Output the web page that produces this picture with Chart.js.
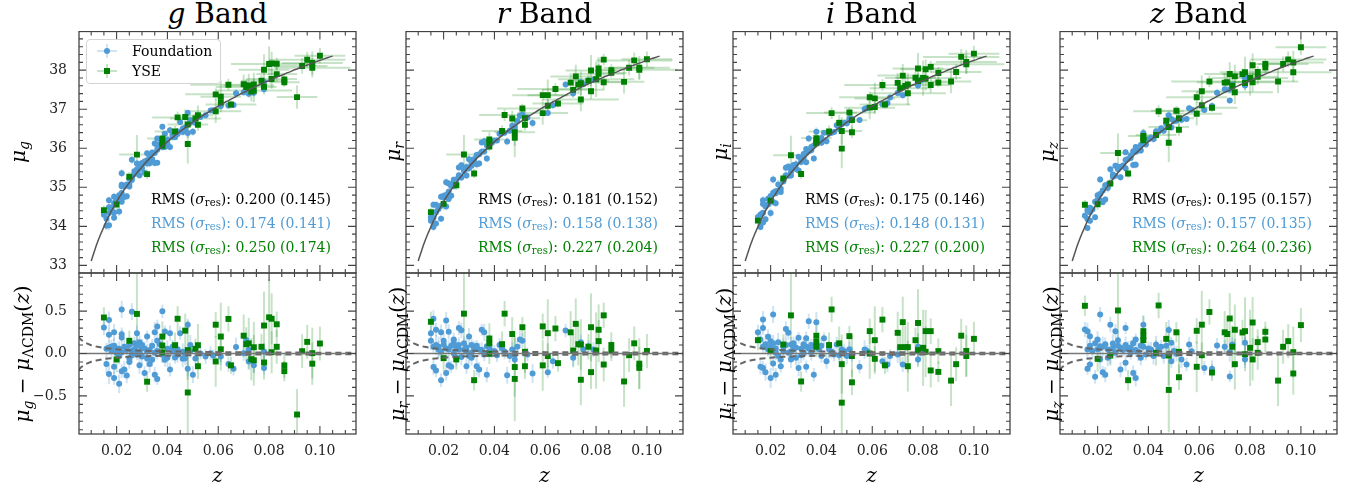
<!DOCTYPE html>
<html>
<head>
<meta charset="utf-8">
<script src="https://cdn.jsdelivr.net/npm/chart.js@4/dist/chart.umd.min.js"></script>
<style>
  body { margin: 0; width: 1358px; height: 493px; background: #fff; position: relative; overflow: hidden;
         font-family: 'DejaVu Serif', serif; }
  canvas { position: absolute; }
  .t { position: absolute; white-space: nowrap; color: #000; line-height: 1; }
  .t i { font-style: italic; }
  .sb { font-size: 0.7em; position: relative; top: 0.28em; }
  .rms { position: absolute; white-space: nowrap; text-align: right; font-size: 14px; line-height: 23px; }
  .lg { position: absolute; border: 1px solid #d4d4d4; border-radius: 4px; background: rgba(255,255,255,0.85); }
  .lg div { position: absolute; }
</style>
</head>
<body>
<script>
// ---- data ----
// mu_LCDM(z) curve, tabulated every 0.001 in z
const zGrid = [0.010,0.011,0.012,0.013,0.014,0.015,0.016,0.017,0.018,0.019,
  0.020,0.021,0.022,0.023,0.024,0.025,0.026,0.027,0.028,0.029,
  0.030,0.031,0.032,0.033,0.034,0.035,0.036,0.037,0.038,0.039,
  0.040,0.041,0.042,0.043,0.044,0.045,0.046,0.047,0.048,0.049,
  0.050,0.051,0.052,0.053,0.054,0.055,0.056,0.057,0.058,0.059,
  0.060,0.061,0.062,0.063,0.064,0.065,0.066,0.067,0.068,0.069,
  0.070,0.071,0.072,0.073,0.074,0.075,0.076,0.077,0.078,0.079,
  0.080,0.081,0.082,0.083,0.084,0.085,0.086,0.087,0.088,0.089,
  0.090,0.091,0.092,0.093,0.094,0.095,0.096,0.097,0.098,0.099,
  0.100,0.101,0.102,0.103,0.104,0.105];
const muLcdm = [33.11,33.31,33.51,33.68,33.84,33.99,34.14,34.27,34.40,34.51,
  34.63,34.74,34.84,34.94,35.03,35.12,35.21,35.29,35.37,35.45,
  35.52,35.60,35.67,35.74,35.80,35.87,35.93,35.99,36.05,36.11,
  36.17,36.22,36.27,36.33,36.38,36.43,36.48,36.53,36.57,36.62,
  36.67,36.71,36.75,36.80,36.84,36.88,36.92,36.96,37.00,37.04,
  37.08,37.12,37.15,37.19,37.22,37.26,37.29,37.33,37.36,37.40,
  37.43,37.46,37.49,37.52,37.56,37.59,37.62,37.65,37.68,37.71,
  37.73,37.76,37.79,37.82,37.85,37.87,37.90,37.93,37.95,37.98,
  38.01,38.03,38.06,38.08,38.11,38.13,38.16,38.18,38.20,38.23,
  38.25,38.27,38.30,38.32,38.34,38.36];

// dashed peculiar-velocity envelope in the residual panels
const envZ  = [0.005,0.006,0.007,0.008,0.010,0.012,0.015,0.020,0.025,0.030,0.040,0.050,0.060,0.080,0.100,0.115];
const envHi = [0.196,0.163,0.140,0.123,0.098,0.082,0.065,0.049,0.039,0.033,0.025,0.020,0.016,0.012,0.010,0.009];
const envLo = [-0.196,-0.163,-0.140,-0.123,-0.098,-0.082,-0.065,-0.049,-0.039,-0.033,-0.025,-0.020,-0.016,-0.012,-0.010,-0.009];

// Foundation: redshift and Hubble residual per band
const fZ_g = [0.015,0.017,0.017,0.016,0.016,0.018,0.018,0.019,0.017,0.019,0.019,0.020,0.021,0.022,0.022,0.022,0.021,0.022,0.022,0.023,
  0.024,0.025,0.025,0.026,0.026,0.027,0.028,0.028,0.029,0.029,0.030,0.030,0.031,0.032,0.032,0.033,0.034,0.035,0.035,0.036,
  0.036,0.036,0.036,0.038,0.038,0.039,0.039,0.040,0.041,0.041,0.042,0.043,0.044,0.045,0.046,0.047,0.047,0.048,0.048,0.049,
  0.049,0.050,0.055,0.057,0.058,0.061,0.064,0.066,0.067,0.070,0.071,0.072,0.072,0.074,0.078,0.078,
  0.017,0.019,0.020,0.021,0.023,0.024,0.025,0.026,0.027,0.028,0.029,0.030,0.031,0.032,0.033,0.034,0.035,0.037,0.040,0.042,
  0.044,0.046,0.051,0.053];
const fRes_g = [0.306,0.396,0.22,-0.125,0.055,0.03,0.082,0.25,-0.243,-0.157,-0.29,0.004,0.055,0.52,0.227,0.188,-0.357,0.016,-0.21,-0.19,
  -0.26,-0.1,-0.055,0.494,0.03,0.12,0.24,-0.008,-0.14,0.133,0.063,-0.035,-0.23,0.2,0.024,-0.125,-0.075,-0.25,0.25,0.32,
  -0.3,0.15,0.03,0.498,-0.016,0.26,-0.075,0.055,0.24,-0.19,0.024,-0.047,-0.016,0.24,-0.063,-0.008,-0.055,0.34,-0.18,0.1,
  0.03,-0.25,-0.035,0.004,-0.024,-0.035,-0.125,-0.18,0.078,0.004,0.16,-0.094,0.043,-0.14,0.024,-0.17,
  0.07,0.09,0.06,-0.03,0.08,0.04,0.10,-0.02,0.05,0.09,0.02,0.10,0.06,-0.06,0.04,0.09,0.01,0.11,-0.05,0.08,
  0.05,0.02,-0.06,0.0];

const fZ_r = [0.015,0.016,0.017,0.015,0.016,0.016,0.017,0.018,0.018,0.019,0.019,0.020,0.021,0.021,0.022,0.022,0.022,0.023,0.024,0.024,
  0.025,0.026,0.026,0.027,0.027,0.028,0.029,0.029,0.030,0.031,0.031,0.033,0.034,0.035,0.034,0.036,0.036,0.037,0.037,0.039,
  0.040,0.043,0.045,0.046,0.047,0.048,0.048,0.050,0.051,0.053,0.055,0.061,0.063,0.068,0.071,0.074,0.075,0.077,0.079,
  0.017,0.019,0.020,0.021,0.023,0.024,0.025,0.026,0.028,0.029,0.030,0.031,0.032,0.033,0.035,0.038,0.041,0.042,0.044,0.049];
const fRes_r = [0.24,0.41,0.28,0.15,0.08,-0.16,-0.2,0.047,0.08,0.25,-0.315,0.106,-0.23,0.39,-0.14,0.256,0.047,-0.157,0.165,0.0,
  0.08,0.3,0.047,-0.04,0.275,0.047,-0.15,0.028,0.2,0.008,-0.05,-0.15,0.047,0.28,-0.19,0.25,-0.012,-0.25,0.087,0.028,
  0.028,0.059,-0.256,-0.03,0.047,-0.012,-0.07,0.165,0.15,-0.012,-0.236,-0.22,-0.09,0.27,-0.05,0.134,0.047,0.087,0.047,
  0.10,0.02,0.15,0.06,0.09,0.12,-0.05,0.10,0.12,0.07,-0.03,0.10,0.05,0.09,0.04,0.06,-0.02,0.10,0.02,0.08];

const fZ_i = [0.015,0.017,0.017,0.016,0.017,0.016,0.017,0.018,0.020,0.019,0.020,0.020,0.021,0.021,0.022,0.022,0.023,0.024,0.024,0.025,
  0.026,0.027,0.027,0.028,0.028,0.029,0.030,0.031,0.031,0.032,0.033,0.034,0.034,0.034,0.035,0.036,0.037,0.037,0.038,0.040,
  0.041,0.042,0.043,0.045,0.046,0.048,0.049,0.050,0.052,0.055,0.057,0.064,0.066,0.067,0.070,0.072,0.078,0.078,0.079,
  0.018,0.019,0.021,0.022,0.023,0.025,0.026,0.028,0.029,0.030,0.032,0.033,0.035,0.036,0.039,0.040,0.044,0.047,0.051,0.058];
const fRes_i = [0.25,0.40,0.30,0.165,0.08,-0.157,-0.17,-0.22,-0.29,0.197,0.146,0.08,-0.118,0.46,-0.25,0.008,0.134,-0.15,-0.07,0.08,
  0.29,0.244,0.008,-0.07,0.106,0.047,-0.05,0.185,-0.17,0.055,0.008,0.08,0.18,-0.157,0.38,0.016,-0.25,0.08,0.37,-0.03,
  0.18,-0.09,0.047,-0.012,0.106,0.047,0.028,-0.03,-0.004,-0.157,0.047,-0.09,-0.13,-0.03,-0.012,-0.13,0.08,-0.07,0.016,
  0.11,0.05,0.12,0.06,-0.03,0.03,0.10,0.02,0.12,0.07,-0.02,0.11,0.06,0.10,0.05,0.09,0.02,-0.02,0.05,0.03];

const fZ_z = [0.015,0.016,0.017,0.016,0.016,0.017,0.019,0.020,0.021,0.021,0.021,0.022,0.023,0.024,0.024,0.025,0.026,0.027,0.027,0.028,
  0.029,0.029,0.031,0.031,0.032,0.033,0.034,0.035,0.035,0.035,0.037,0.038,0.038,0.039,0.041,0.043,0.045,0.046,0.048,0.049,
  0.049,0.051,0.053,0.055,0.056,0.057,0.062,0.065,0.067,0.070,0.072,0.072,0.073,0.078,0.078,
  0.017,0.018,0.019,0.020,0.022,0.023,0.025,0.026,0.028,0.030,0.031,0.033,0.034,0.036,0.037,0.040,0.042,0.044,0.047,0.050];
const fRes_z = [0.283,0.264,0.205,0.047,-0.18,-0.13,-0.275,0.165,-0.07,0.46,0.087,-0.22,-0.25,-0.05,0.047,0.34,0.118,0.008,0.264,0.157,
  -0.19,0.067,0.3,-0.11,0.055,0.008,-0.23,0.165,-0.29,0.04,-0.05,0.34,0.08,-0.012,0.047,0.106,0.08,-0.03,0.276,-0.09,
  0.126,-0.004,-0.07,-0.13,0.106,0.028,-0.17,-0.18,0.094,0.08,0.016,-0.27,0.106,0.126,-0.07,
  0.09,0.03,0.12,0.05,0.08,0.11,-0.02,0.06,0.09,0.04,0.10,0.07,0.12,0.02,0.09,0.06,-0.03,0.05,0.09,0.03];

const fErr = [0.09,0.10,0.08,0.11,0.07,0.09,0.08,0.10,0.12,0.09, 0.08,0.07,0.09,0.10,0.08,0.09,0.11,0.07,0.08,0.10,
  0.09,0.08,0.07,0.10,0.09,0.08,0.09,0.07,0.10,0.08, 0.09,0.11,0.08,0.07,0.09,0.10,0.08,0.09,0.12,0.08,
  0.07,0.09,0.10,0.08,0.09,0.07,0.08,0.10,0.09,0.08, 0.11,0.07,0.09,0.08,0.10,0.09,0.08,0.07,0.09,0.12,
  0.08,0.10,0.09,0.08,0.07,0.10,0.09,0.08,0.11,0.09, 0.08,0.10,0.07,0.09,0.10,0.08,0.08,0.09,0.07,0.10,
  0.09,0.08,0.07,0.09,0.10,0.08,0.09,0.07,0.08,0.10, 0.09,0.08,0.07,0.09,0.11,0.08,0.09,0.10,0.08,0.07];

// YSE: redshift, redshift error, distance error, residual per band
const yZ = [0.015,0.020,0.025,0.028,0.032,0.038,0.038,0.038,0.043,0.044,0.047,0.048,0.048,0.051,0.052,0.052,0.059,0.059,0.061,0.061,
  0.064,0.065,0.070,0.071,0.072,0.073,0.074,0.074,0.077,0.078,0.078,0.080,0.081,0.081,0.083,0.083,0.086,0.086,0.091,0.093,
  0.095,0.097,0.097,0.100];
const yZErr = [0,0,0,0.007,0,0.006,0,0,0.008,0.010,0,0.008,0,0.010,0,0.006,0.012,0.010,0.008,0,
  0.015,0.010,0,0.012,0.010,0,0.015,0,0.008,0.010,0,0.015,0.010,0,0.008,0,0.006,0,0.008,0.010,
  0.015,0.012,0.015,0.010];
const yErr = [0.12,0.15,0.12,0.50,0.12,0.18,0.10,0.12,0.15,0.15,0.20,0.35,0.50,0.12,0.15,0.25,0.15,0.30,0.40,0.15,
  0.15,0.10,0.25,0.20,0.30,0.25,0.30,0.30,0.15,0.40,0.20,0.45,0.25,0.30,0.20,0.15,0.12,0.15,0.30,0.20,
  0.20,0.30,0.25,0.20];
const yRes_g = [0.425,-0.07,0.15,0.467,-0.333,0.20,0.094,0.012,0.098,0.41,0.27,0.04,-0.46,0.055,-0.15,0.098,0.34,-0.094,0.20,0.05,
  0.408,-0.14,0.21,0.11,0.12,-0.067,-0.08,0.074,0.079,0.33,-0.106,0.427,0.015,0.41,0.079,0.345,-0.208,-0.14,-0.72,0.027,
  0.137,0.004,-0.12,0.118];
const yRes_r = [0.374,-0.055,-0.07,0.47,-0.315,0.177,0.12,-0.004,0.11,0.47,0.23,-0.16,-0.30,0.31,-0.15,0.02,0.32,-0.14,0.24,-0.03,
  0.295,-0.114,0.25,0.035,0.35,0.11,-0.31,0.106,0.08,0.31,-0.22,0.035,0.146,0.28,-0.13,0.45,0.03,0.10,-0.33,-0.02,
  0.12,-0.12,-0.17,0.03];
const yRes_i = [0.157,0.028,0.106,0.45,-0.33,0.21,0.14,0.08,0.10,0.52,0.12,-0.126,-0.58,0.205,-0.34,-0.03,0.264,0.0,0.157,-0.063,
  0.40,-0.14,0.244,0.075,0.37,0.075,-0.15,0.075,0.157,0.36,0.04,0.067,0.264,0.02,-0.2,0.264,-0.217,0.028,-0.32,-0.126,
  0.21,0.03,-0.03,0.173];
const yRes_z = [0.563,-0.063,-0.024,0.508,-0.315,0.264,0.205,0.157,0.008,0.567,0.173,-0.024,-0.43,0.25,-0.28,0.02,0.268,-0.157,0.34,-0.02,
  0.49,-0.224,0.25,0.23,0.413,0.079,-0.126,0.28,0.248,0.264,-0.008,0.067,-0.07,0.366,0.008,0.134,0.256,0.165,-0.32,0.079,
  0.146,0.016,-0.236,0.335];

const rms_g = ['0.200 (0.145)', '0.174 (0.141)', '0.250 (0.174)'];
const rms_r = ['0.181 (0.152)', '0.158 (0.138)', '0.227 (0.204)'];
const rms_i = ['0.175 (0.146)', '0.148 (0.131)', '0.227 (0.200)'];
const rms_z = ['0.195 (0.157)', '0.157 (0.135)', '0.264 (0.236)'];

// ---- styling ----
const X_MIN = 0.0052, X_MAX = 0.1142;
const BLUE = '#4f9bd5', BLUE_ERR = 'rgba(79,155,213,0.28)';
const GREEN = '#008000', GREEN_ERR = 'rgba(0,128,0,0.22)';
const FONT = "'DejaVu Serif', serif";
const LEFTS = [79, 406, 733, 1060], PW = 277;
const TOP_Y = 31.5, MID_Y = 273, BOT_Y = 434;

const bands = [
  { name: 'g', fz: fZ_g, fr: fRes_g, yr: yRes_g, rms: rms_g },
  { name: 'r', fz: fZ_r, fr: fRes_r, yr: yRes_r, rms: rms_r },
  { name: 'i', fz: fZ_i, fr: fRes_i, yr: yRes_i, rms: rms_i },
  { name: 'z', fz: fZ_z, fr: fRes_z, yr: yRes_z, rms: rms_z }
];

function muAt(z) { return muLcdm[zGrid.indexOf(z)]; }

// inward ticks on all four sides plus the axes frame
const frameTicks = {
  id: 'frameTicks',
  afterDraw(chart, args, o) {
    const { ctx, chartArea: a, scales: { x, y } } = chart;
    ctx.save();
    ctx.strokeStyle = '#444';
    ctx.lineWidth = 1.1;
    ctx.beginPath();
    for (let k = Math.ceil(x.min / o.xMinor); k * o.xMinor <= x.max; k++) {
      const px = x.getPixelForValue(k * o.xMinor);
      const len = (k % o.xRatio === 0) ? 8 : 4;
      ctx.moveTo(px, a.bottom); ctx.lineTo(px, a.bottom - len);
      ctx.moveTo(px, a.top); ctx.lineTo(px, a.top + len);
    }
    for (let k = Math.ceil(y.min / o.yMinor - 1e-9); k * o.yMinor <= y.max + 1e-9; k++) {
      const py = y.getPixelForValue(k * o.yMinor);
      const len = (((k % o.yRatio) + o.yRatio) % o.yRatio === 0) ? 8 : 4;
      ctx.moveTo(a.left, py); ctx.lineTo(a.left + len, py);
      ctx.moveTo(a.right, py); ctx.lineTo(a.right - len, py);
    }
    ctx.stroke();
    ctx.lineWidth = 1.3;
    ctx.strokeRect(a.left, a.top, a.right - a.left, a.bottom - a.top);
    ctx.restore();
  }
};

// error bars from dataset.errX / dataset.errY
const errorBars = {
  id: 'errorBars',
  beforeDatasetsDraw(chart) {
    const { ctx, chartArea: a, scales: { x, y } } = chart;
    ctx.save();
    ctx.beginPath();
    ctx.rect(a.left, a.top, a.right - a.left, a.bottom - a.top);
    ctx.clip();
    ctx.lineWidth = 2;
    chart.data.datasets.forEach(ds => {
      if (!ds.errY) return;
      ctx.strokeStyle = ds.errColor;
      ds.data.forEach((p, i) => {
        const px = x.getPixelForValue(p.x), py = y.getPixelForValue(p.y);
        const ey = ds.errY[i] || 0, ex = ds.errX ? ds.errX[i] : 0;
        if (ey) {
          ctx.beginPath();
          ctx.moveTo(px, y.getPixelForValue(p.y - ey));
          ctx.lineTo(px, y.getPixelForValue(p.y + ey));
          ctx.stroke();
        }
        if (ex) {
          ctx.beginPath();
          ctx.moveTo(x.getPixelForValue(p.x - ex), py);
          ctx.lineTo(x.getPixelForValue(p.x + ex), py);
          ctx.stroke();
        }
      });
    });
    ctx.restore();
  }
};

function panel(opts) {
  const c = document.createElement('canvas');
  c.width = opts.w; c.height = opts.h;
  c.style.left = opts.left + 'px'; c.style.top = opts.top + 'px';
  document.body.appendChild(c);
  return new Chart(c, {
    type: 'scatter',
    data: { datasets: opts.datasets },
    plugins: [errorBars, frameTicks],
    options: {
      responsive: false, animation: false, devicePixelRatio: 1,
      layout: { padding: opts.padding, autoPadding: false },
      plugins: {
        legend: { display: false }, tooltip: { enabled: false },
        frameTicks: { xMinor: 0.005, xRatio: 4, yMinor: opts.yMinor, yRatio: 5 }
      },
      scales: {
        x: {
          type: 'linear', min: X_MIN, max: X_MAX, display: opts.xLabels,
          grid: { display: false, drawTicks: false }, border: { display: false },
          ticks: { stepSize: 0.02, includeBounds: false, autoSkip: false, maxRotation: 0, padding: 9,
                   color: '#222', font: { family: FONT, size: 14 }, callback: v => v.toFixed(2) },
          afterFit: s => { s.height = opts.xLabels ? 40 : 0; s.paddingLeft = 0; s.paddingRight = 0; }
        },
        y: {
          type: 'linear', min: opts.yMin, max: opts.yMax, position: 'left',
          grid: { display: false, drawTicks: false }, border: { display: false },
          ticks: { display: opts.yLabels, stepSize: opts.yStep, includeBounds: false, autoSkip: false, padding: 12,
                   color: '#222', font: { family: FONT, size: 14 },
                   callback: v => v.toFixed(opts.yDec).replace('-', '\u2212') },
          afterFit: s => { s.width = 70; s.paddingTop = 0; s.paddingBottom = 0; }
        }
      }
    }
  });
}

function addText(html, css, cls) {
  const d = document.createElement('div');
  d.className = cls || 't';
  d.innerHTML = html;
  Object.assign(d.style, css);
  document.body.appendChild(d);
  return d;
}

bands.forEach((b, k) => {
  const L = LEFTS[k];
  const first = k === 0;

  // top: distance modulus
  panel({
    left: L - 70, top: 31, w: 70 + PW + 10, h: 252,
    padding: { left: 0, top: TOP_Y - 31, right: 10, bottom: 252 - (MID_Y - 31) },
    xLabels: false, yLabels: first, yMin: 32.805, yMax: 38.99, yStep: 1, yMinor: 0.2, yDec: 0,
    datasets: [
      { label: 'model', data: zGrid.map((z, i) => ({ x: z, y: muLcdm[i] })), showLine: true,
        borderColor: '#555', borderWidth: 1.5, pointRadius: 0, order: 0 },
      { label: 'YSE', data: yZ.map((z, i) => ({ x: z, y: muAt(z) + b.yr[i] })),
        errY: yErr, errX: yZErr, errColor: GREEN_ERR,
        pointStyle: 'rect', pointRadius: 4.2, backgroundColor: GREEN, borderWidth: 0, order: 1 },
      { label: 'Foundation', data: b.fz.map((z, i) => ({ x: z, y: muAt(z) + b.fr[i] })),
        errY: fErr, errColor: BLUE_ERR,
        pointStyle: 'circle', pointRadius: 3, backgroundColor: BLUE, borderWidth: 0, order: 2 }
    ]
  });

  // bottom: residuals
  panel({
    left: L - 70, top: MID_Y - 10, w: 70 + PW + 10, h: BOT_Y - MID_Y + 10 + 40,
    padding: { left: 0, top: 10, right: 10, bottom: 0 },
    xLabels: true, yLabels: first, yMin: -0.95, yMax: 0.95, yStep: 0.5, yMinor: 0.1, yDec: 1,
    datasets: [
      { label: 'zero', data: envZ.map(z => ({ x: z, y: 0 })), showLine: true,
        borderColor: '#777', borderWidth: 1.5, pointRadius: 0, order: 0 },
      { label: 'env+', data: envZ.map((z, i) => ({ x: z, y: envHi[i] })), showLine: true,
        borderColor: '#666', borderWidth: 2, borderDash: [6, 4], pointRadius: 0, order: 0 },
      { label: 'env-', data: envZ.map((z, i) => ({ x: z, y: envLo[i] })), showLine: true,
        borderColor: '#666', borderWidth: 2, borderDash: [6, 4], pointRadius: 0, order: 0 },
      { label: 'YSE', data: yZ.map((z, i) => ({ x: z, y: b.yr[i] })),
        errY: yErr, errColor: GREEN_ERR,
        pointStyle: 'rect', pointRadius: 4.2, backgroundColor: GREEN, borderWidth: 0, order: 1 },
      { label: 'Foundation', data: b.fz.map((z, i) => ({ x: z, y: b.fr[i] })),
        errY: fErr, errColor: BLUE_ERR,
        pointStyle: 'circle', pointRadius: 3, backgroundColor: BLUE, borderWidth: 0, order: 2 }
    ]
  });

  // texts
  const cx = L + PW / 2;
  addText('<i>' + b.name + '</i> Band', { left: cx + 'px', top: '0px', transform: 'translateX(-50%)',
    fontSize: '28px', lineHeight: '28px' });
  addText('<i>z</i>', { left: cx + 'px', top: '475px', transform: 'translate(-50%,-50%)', fontSize: '20px' });
  const yl1 = first ? L - 61 : L - 13, yl2 = first ? L - 57 : L - 9;
  addText('<i>\u03bc</i><span class="sb"><i>' + b.name + '</i></span>',
    { left: yl1 + 'px', top: ((TOP_Y + MID_Y) / 2) + 'px', transform: 'translate(-50%,-50%) rotate(-90deg)', fontSize: '20px' });
  addText('<i>\u03bc</i><span class="sb"><i>' + b.name + '</i></span> \u2212 <i>\u03bc</i><span class="sb">\u039bCDM</span>(<i>z</i>)',
    { left: yl2 + 'px', top: ((MID_Y + BOT_Y) / 2) + 'px', transform: 'translate(-50%,-50%) rotate(-90deg)', fontSize: '20px' });

  const lab = 'RMS (<i>\u03c3</i><span class="sb" style="font-size:0.72em;top:0.2em">res</span>): ';
  addText('<div style="color:#000">' + lab + b.rms[0] + '</div>' +
          '<div style="color:' + BLUE + '">' + lab + b.rms[1] + '</div>' +
          '<div style="color:' + GREEN + '">' + lab + b.rms[2] + '</div>',
    { left: (L + 252) + 'px', top: '187.5px', transform: 'translateX(-100%)' }, 'rms');
});

// legend in the g panel
const lg = addText('', { left: '86px', top: '39px', width: '133px', height: '43px' }, 'lg');
[['Foundation', BLUE, BLUE_ERR, '50%'], ['YSE', GREEN, GREEN_ERR, '0']].forEach((e, i) => {
  const cy = 11 + i * 20;
  lg.insertAdjacentHTML('beforeend',
    '<div style="left:10px;top:' + (cy - 1) + 'px;width:20px;height:2px;background:' + e[2] + '"></div>' +
    '<div style="left:19px;top:' + (cy - 7) + 'px;width:2px;height:14px;background:' + e[2] + '"></div>' +
    '<div style="left:' + (i ? 17 : 17) + 'px;top:' + (cy - 3) + 'px;width:6px;height:6px;border-radius:' + e[3] +
      ';background:' + e[1] + '"></div>' +
    '<div style="left:45px;top:' + (cy - 9) + 'px;font-size:14px;line-height:18px;white-space:nowrap">' + e[0] + '</div>');
});
</script>
</body>
</html>
